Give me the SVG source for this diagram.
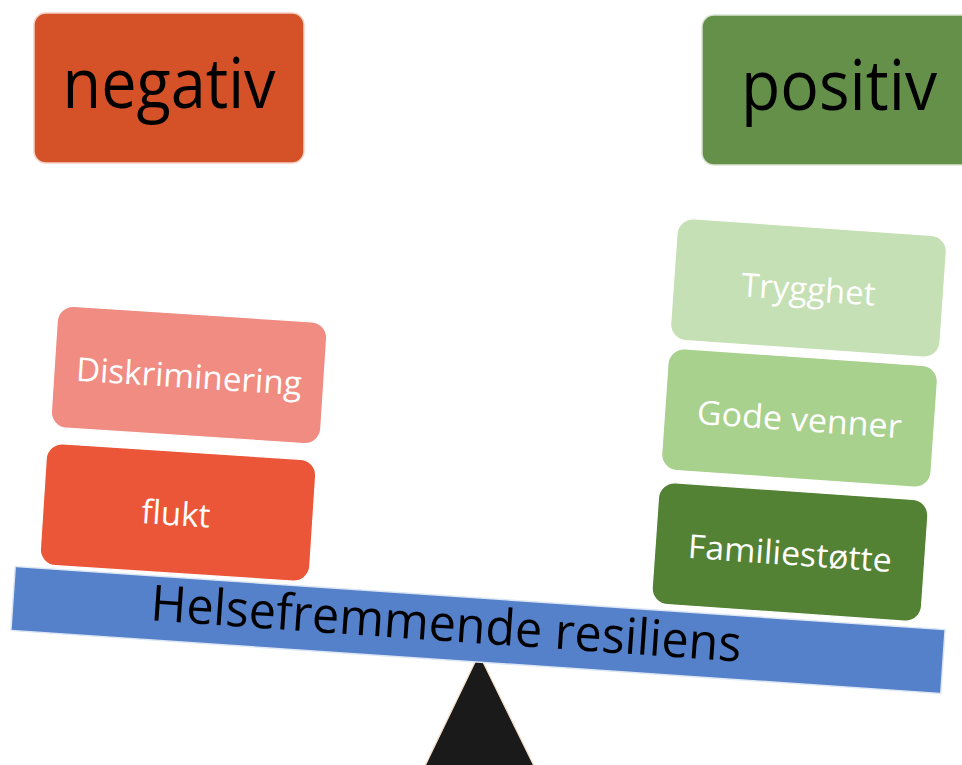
<svg xmlns="http://www.w3.org/2000/svg" width="962" height="765" viewBox="0 0 962 765">
<style>
.title{font-family:"Open Sans","Liberation Sans",sans-serif;font-size:70px;fill:#000;text-anchor:middle}
.lbl{font-family:"Open Sans","Liberation Sans",sans-serif;font-size:33px;fill:#fff;text-anchor:middle}
.beamtxt{font-family:"Open Sans","Liberation Sans",sans-serif;font-size:50px;fill:#000;text-anchor:middle}
.box{stroke:#fff;stroke-width:1.2}
</style>
<rect width="962" height="765" fill="#fff"/>
<g id="negativ">
<rect x="34" y="13" width="270" height="150" rx="12" fill="#D55228" stroke="#F6D0C4" stroke-width="1.5"/>
<text class="title" x="169" y="108" textLength="213" lengthAdjust="spacingAndGlyphs">negativ</text>
</g>
<g id="positiv">
<rect x="702" y="15" width="280" height="150" rx="12" fill="#64904A" stroke="#D8E4D0" stroke-width="1.5"/>
<text class="title" x="839" y="110" textLength="196" lengthAdjust="spacingAndGlyphs">positiv</text>
</g>
<g id="fulcrum">
<polygon points="479,654 425,766 534,766" fill="#1A1A1A" stroke="#F2DCC4" stroke-width="1.2"/>
</g>
<g id="beam" transform="translate(478,630) rotate(3.88)">
<rect x="-466" y="-32" width="932" height="64" fill="#5580CA" stroke="#DCE6F4" stroke-width="1.5"/>
</g>
<text class="beamtxt" transform="translate(445,641) rotate(4)" x="0" y="0" textLength="592" lengthAdjust="spacingAndGlyphs">Helsefremmende resiliens</text>
<g id="diskriminering" transform="translate(189,375) rotate(3.7)">
<rect class="box" x="-135" y="-61" width="270" height="122" rx="16" fill="#F08C82"/>
<text class="lbl" x="0" y="13" textLength="226" lengthAdjust="spacingAndGlyphs">Diskriminering</text>
</g>
<g id="flukt" transform="translate(178,512.5) rotate(3.7)">
<rect class="box" x="-135" y="-61" width="270" height="122" rx="16" fill="#EC5638"/>
<text class="lbl" x="-2" y="13">flukt</text>
</g>
<g id="trygghet" transform="translate(808.5,288) rotate(4)">
<rect class="box" x="-135" y="-61" width="270" height="122" rx="16" fill="#C5E0B4"/>
<text class="lbl" x="0" y="13">Trygghet</text>
</g>
<g id="gode-venner" transform="translate(799.5,418) rotate(4)">
<rect class="box" x="-135" y="-61" width="270" height="122" rx="16" fill="#A9D18E"/>
<text class="lbl" x="0" y="13" textLength="205" lengthAdjust="spacingAndGlyphs">Gode venner</text>
</g>
<g id="familiestotte" transform="translate(790,552) rotate(4)">
<rect class="box" x="-135" y="-61" width="270" height="122" rx="16" fill="#548235"/>
<text class="lbl" x="0" y="13" textLength="204" lengthAdjust="spacingAndGlyphs">Familiestøtte</text>
</g>
</svg>
